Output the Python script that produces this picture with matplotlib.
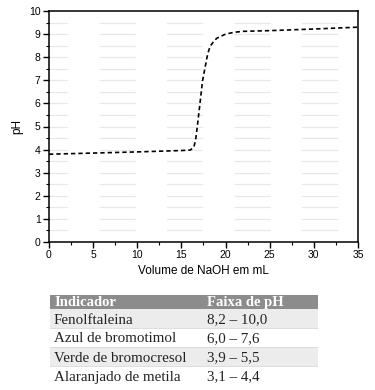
import matplotlib.pyplot as plt
from matplotlib.patches import Rectangle

# titration curve
volume = [0, 5, 10, 15, 16, 16.4, 16.6, 16.8, 17.1, 17.4, 17.9, 18.1, 18.3, 18.6, 19.0, 20.0, 21.0, 22.0, 25.0, 30.0, 35.0]
ph = [3.8, 3.85, 3.9, 3.96, 3.98, 4.1, 4.4, 5.0, 6.0, 7.0, 8.0, 8.3, 8.5, 8.65, 8.82, 9.0, 9.08, 9.12, 9.15, 9.22, 9.3]

x_ticks = [0, 5, 10, 15, 20, 25, 30, 35]
y_ticks = [0, 1, 2, 3, 4, 5, 6, 7, 8, 9, 10]

# indicator table
header = ['Indicador', 'Faixa de pH']
indicators = ['Fenolftaleina', 'Azul de bromotimol', 'Verde de bromocresol', 'Alaranjado de metila']
ranges = ['8,2 – 10,0', '6,0 – 7,6', '3,9 – 5,5', '3,1 – 4,4']

fig = plt.figure(figsize=(3.75, 3.9), dpi=100)
plt.rcParams['font.family'] = ['Liberation Sans', 'DejaVu Sans']

ax = fig.add_axes([49/375, 1 - 242/390, 309/375, 231/390])

# faint dashed grid every 0.5 pH
for yv in [i * 0.5 for i in range(1, 20)]:
    ax.axhline(yv, color='#e8e8e8', lw=0.9, linestyle=(14, (29, 25)), zorder=0)

ax.plot(volume, ph, color='black', lw=1.2, linestyle=(0, (2.6, 1.8)))

ax.set_xlim(0, 35)
ax.set_ylim(0, 10)
ax.set_xticks(x_ticks)
ax.set_yticks(y_ticks)
ax.set_xticks([2.5 + 5 * i for i in range(7)], minor=True)
ax.set_yticks([0.5 + i for i in range(10)], minor=True)
ax.tick_params(which='major', direction='out', length=4, width=1, labelsize=7.5, pad=2)
ax.tick_params(which='minor', direction='out', length=2, width=0.8)
for sp in ax.spines.values():
    sp.set_linewidth(1.1)
ax.set_xlabel('Volume de NaOH em mL', fontsize=8.5, labelpad=3)
ax.set_ylabel('pH', fontsize=8.5, labelpad=4)

# table drawn in pixel-like coordinates
tab = fig.add_axes([50/375, 5/390, 268/375, 90/390])
tab.set_xlim(0, 268)
tab.set_ylim(90, 0)
tab.axis('off')

head_h = 14
row_h = 19
tab.add_patch(Rectangle((0, 0), 268, head_h, color='#8c8c8c', lw=0))
tab.text(4, head_h / 2 + 0.5, header[0], color='white', fontweight='bold', fontsize=10.5,
         family='Liberation Serif', va='center', ha='left')
tab.text(157, head_h / 2 + 0.5, header[1], color='white', fontweight='bold', fontsize=10.5,
         family='Liberation Serif', va='center', ha='left')

for i, (name, rng) in enumerate(zip(indicators, ranges)):
    top = head_h + i * row_h
    shade = '#ececec' if i % 2 == 0 else 'white'
    tab.add_patch(Rectangle((0, top), 268, row_h, color=shade, lw=0))
    tab.plot([0, 268], [top + row_h, top + row_h], color='#d8d8d8', lw=0.6)
    tab.text(4, top + row_h / 2 + 1.5, name, fontsize=10.8, family='Liberation Serif',
             va='center', ha='left', color='#222222')
    tab.text(157, top + row_h / 2 + 1.5, rng, fontsize=10.8, family='Liberation Serif',
             va='center', ha='left', color='#222222')

fig.savefig('out.png', dpi=100)
